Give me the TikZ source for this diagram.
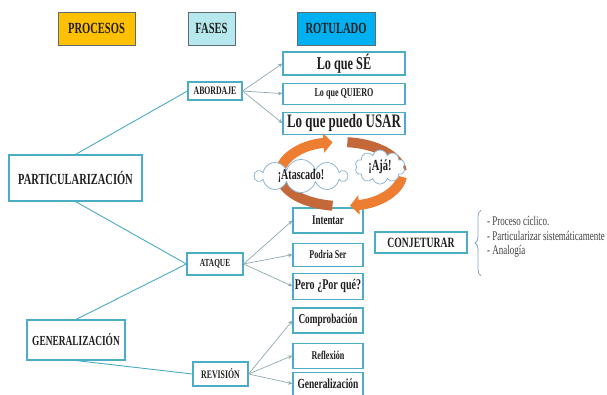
\documentclass[tikz,border=0pt]{standalone}
\usepackage{fontspec}
\setmainfont[FakeStretch=0.68]{Liberation Serif}
\usepackage{tikz}
\usetikzlibrary{positioning,arrows.meta,shapes.symbols,decorations.pathreplacing,calc}
\definecolor{gold}{HTML}{FFC000}
\definecolor{aqua}{HTML}{B7E8EE}
\definecolor{sky}{HTML}{00B0F0}
\definecolor{frame}{HTML}{4BACC6}
\definecolor{link}{HTML}{8FAAB4}
\definecolor{hdline}{HTML}{5F6B73}
\definecolor{ink}{HTML}{1F1F1F}
\definecolor{flame}{HTML}{ED7D31}
\definecolor{rust}{HTML}{C4683A}
\definecolor{puff}{HTML}{8EB6D6}
\definecolor{note}{HTML}{404040}
\newcommand{\boxfont}[1]{\fontsize{#1}{#1}\selectfont\bfseries}

\begin{document}
\begin{tikzpicture}[
  x=1pt,y=-1pt,
  head/.style={draw=hdline,line width=0.6pt,minimum height=33pt,inner sep=0pt,text=ink},
  box/.style={draw=frame,line width=1.1pt,fill=white,inner sep=0pt,text=ink},
  tie/.style={frame,line width=0.9pt},
  arrow/.style={-{Stealth[length=4.5pt,width=4pt]},link,line width=0.7pt},
  ring/.style={line width=10pt},
  tip/.style={-{Triangle[length=9pt,width=19pt]}},
  bubble/.style={cloud,cloud puffs=10,cloud ignores aspect,draw=puff,fill=white,line width=0.8pt,inner sep=0pt,text=ink},
  brace/.style={decorate,decoration={brace,amplitude=6pt},draw=puff!70!gray,line width=0.8pt}]
\useasboundingbox[fill=white] (0,0) rectangle (607,394);
% headers
\node[head,fill=gold,minimum width=77pt] (procesos) at (96.5,28.5) {\boxfont{15.5}PROCESOS};
\node[head,fill=aqua,minimum width=47pt] (fases) at (211.5,28.5) {\boxfont{15.5}FASES};
\node[head,fill=sky,minimum width=78pt] (rotulado) at (336,28.5) {\boxfont{15.5}ROTULADO};
% procesos
\node[box,minimum width=133pt,minimum height=46pt] (part) at (75.5,178) {\boxfont{15.4}PARTICULARIZACIÓN};
\node[box,minimum width=98pt,minimum height=40pt] (gen) at (76,340) {\boxfont{13.8}GENERALIZACIÓN};
% fases
\node[box,minimum width=54pt,minimum height=18pt] (abordaje) at (215,91) {\boxfont{11.4}ABORDAJE};
\node[box,minimum width=56pt,minimum height=22pt] (ataque) at (215,264) {\boxfont{10.8}ATAQUE};
\node[box,minimum width=55pt,minimum height=24pt] (revision) at (220.5,374) {\boxfont{11.5}REVISIÓN};
% rotulado
\node[box,minimum width=122pt,minimum height=23pt] (se) at (344,63.5) {\boxfont{18}Lo que SÉ};
\node[box,minimum width=122pt,minimum height=21pt,below=7pt of se] (quiero) {\boxfont{11.9}Lo que QUIERO};
\node[box,minimum width=122pt,minimum height=22pt,below=7pt of quiero] (usar) {\boxfont{19}Lo que puedo USAR};
\node[box,minimum width=70pt,minimum height=25pt] (intentar) at (328,220.5) {\boxfont{13.2}Intentar};
\node[box,minimum width=70pt,minimum height=23pt,below=9pt of intentar] (podria) {\boxfont{11.9}Podria Ser};
\node[box,minimum width=70pt,minimum height=26pt,below=6pt of podria] (pero) {\boxfont{14.8}Pero ¿Por qué?};
\node[box,minimum width=70pt,minimum height=25pt] (comprobacion) at (328,320.5) {\boxfont{13.6}Comprobación};
\node[box,minimum width=70pt,minimum height=25pt,below=9pt of comprobacion] (reflexion) {\boxfont{11.9}Reflexión};
\node[box,minimum width=70pt,minimum height=23pt,below=3pt of reflexion] (generalizacion) {\boxfont{13.9}Generalización};
\node[box,minimum width=92pt,minimum height=21pt] (conjeturar) at (421,242.5) {\boxfont{14.2}CONJETURAR};
\node[anchor=west,align=left,inner sep=0pt,text=note,font=\fontsize{13.2}{14.5}\selectfont] (notas) at (487,237) {- Proceso cíclico.\\- Particularizar sistemáticamente\\- Analogía};
\draw[brace] ([shift={(-6,18)}]notas.south west) -- ([shift={(-6,-6)}]notas.north west);
% links
\draw[tie] (part.north) -- (abordaje.west);
\draw[tie] (part.south) -- (ataque.west);
\draw[tie] (gen.north) -- (ataque.west);
\draw[tie] (gen.south) -- (revision.west);
\foreach \t in {se,quiero,usar} \draw[arrow] (abordaje.east) -- (\t.west);
\foreach \t in {intentar,podria,pero} \draw[arrow] (ataque.east) -- (\t.west);
\foreach \t in {comprobacion,reflexion,generalizacion} \draw[arrow] (revision.east) -- (\t.west);
% cycle
\coordinate (eje) at (341,174);
\draw[ring,rust] ($(eje)+(-84:61 and 32)$) arc[start angle=-84,end angle=-5,x radius=61,y radius=32];
\draw[ring,rust] ($(eje)+(98:61 and 32)$) arc[start angle=98,end angle=185,x radius=61,y radius=32];
\draw[ring,tip,flame] ($(eje)+(-185:61 and 32)$) arc[start angle=-185,end angle=-98,x radius=61,y radius=32];
\draw[ring,tip,flame] ($(eje)+(5:61 and 32)$) arc[start angle=5,end angle=81.5,x radius=61,y radius=32];
\node[bubble,minimum width=92pt,minimum height=28pt] (atascado) at (301,176) {\boxfont{14.8}¡Atascado!};
\node[bubble,minimum width=50pt,minimum height=34pt] (aja) at (380,167) {\boxfont{15.4}¡Ajá!};
\end{tikzpicture}
\end{document}
